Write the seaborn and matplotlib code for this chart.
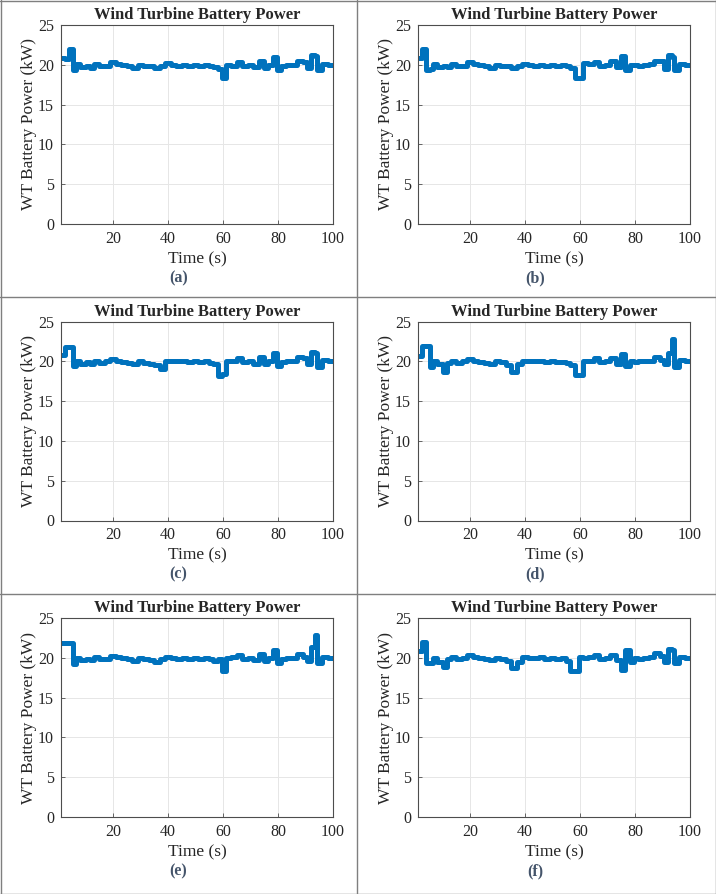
import numpy as np
import pandas as pd
import seaborn as sns
import matplotlib.pyplot as plt
from matplotlib.lines import Line2D

# step start times (s), shared by all six cases
t_steps = [1, 2.5, 4, 5.3, 6.5, 8, 10, 11.5, 13, 15, 17, 19, 21, 23, 25, 27, 29, 31,
           33, 35, 37, 39, 41, 43, 45, 47, 49, 51, 53, 55, 56.5, 58, 59.5, 61, 63,
           65, 67, 69, 71, 73, 75, 76.5, 78, 79.5, 81, 83, 85, 87, 89, 90.5, 92,
           93.3, 94.3, 96, 98]
t_end = 100

# battery power levels (kW) for each case
power_a = [20.8, 20.7, 22.0, 19.4, 20.1, 19.7, 19.8, 19.6, 20.1, 19.8, 19.9, 20.3, 20.1,
           20.0, 19.9, 19.6, 20.0, 19.9, 19.9, 19.6, 19.8, 20.2, 20.0, 19.9, 20.0, 19.9,
           20.0, 19.9, 20.0, 19.9, 19.7, 19.5, 18.3, 20.0, 19.9, 20.4, 19.9, 20.0, 19.7,
           20.5, 19.6, 20.0, 21.0, 19.4, 19.9, 20.0, 20.0, 20.5, 20.4, 19.6, 21.2, 21.1,
           19.3, 20.1, 20.0]
power_b = [20.8, 22.0, 19.3, 19.5, 20.1, 19.7, 19.9, 19.7, 20.1, 19.8, 19.9, 20.3, 20.1,
           20.0, 19.8, 19.6, 20.0, 19.9, 19.8, 19.6, 19.9, 20.1, 20.0, 19.9, 20.0, 19.9,
           20.0, 19.9, 20.0, 19.8, 19.6, 18.3, 18.4, 20.2, 20.1, 20.4, 19.9, 20.0, 20.5,
           19.7, 21.1, 19.4, 20.0, 20.0, 19.9, 20.0, 20.1, 20.5, 20.5, 19.5, 21.2, 21.0,
           19.3, 20.1, 20.0]
power_c = [20.8, 21.8, 21.8, 19.4, 20.0, 19.6, 19.9, 19.7, 20.1, 19.8, 20.0, 20.3, 20.1,
           19.9, 19.8, 19.6, 20.0, 19.8, 19.7, 19.5, 19.0, 20.1, 20.1, 20.0, 20.0, 19.9,
           20.0, 19.9, 20.0, 19.8, 19.7, 18.2, 18.4, 20.1, 20.0, 20.4, 19.9, 20.0, 19.7,
           20.5, 19.7, 20.0, 21.0, 19.4, 19.9, 20.0, 20.0, 20.6, 20.4, 19.6, 21.2, 21.1,
           19.3, 20.2, 20.0]
power_d = [20.7, 21.9, 21.9, 19.3, 20.0, 19.6, 18.7, 19.8, 20.1, 19.8, 20.0, 20.3, 20.0,
           19.9, 19.8, 19.6, 20.0, 19.9, 19.5, 18.7, 19.6, 20.0, 20.0, 20.0, 20.1, 19.9,
           20.0, 19.9, 19.9, 19.8, 19.5, 18.3, 18.3, 20.1, 20.0, 20.4, 19.9, 20.0, 20.4,
           19.7, 20.9, 19.4, 20.0, 19.9, 20.0, 20.0, 20.0, 20.5, 20.2, 19.6, 21.0, 22.8,
           19.3, 20.2, 20.0]
power_e = [21.9, 21.9, 21.9, 19.2, 20.0, 19.7, 19.9, 19.7, 20.1, 19.8, 19.9, 20.2, 20.1,
           20.0, 19.8, 19.6, 20.0, 19.9, 19.7, 19.5, 19.8, 20.1, 20.0, 19.9, 20.0, 19.9,
           20.0, 19.9, 20.0, 19.8, 19.6, 19.8, 18.3, 20.0, 20.1, 20.3, 19.9, 20.0, 19.7,
           20.5, 19.6, 20.0, 21.0, 19.4, 19.9, 20.0, 20.0, 20.5, 20.1, 19.6, 21.3, 22.9,
           19.3, 20.1, 20.0]
power_f = [20.8, 22.0, 19.3, 19.4, 20.0, 19.5, 18.8, 19.8, 20.1, 19.8, 20.0, 20.3, 20.1,
           20.0, 19.8, 19.7, 20.0, 19.8, 19.6, 18.7, 19.5, 20.1, 20.0, 20.0, 20.1, 19.9,
           20.0, 19.9, 20.0, 19.6, 18.3, 18.3, 20.1, 20.0, 20.1, 20.4, 19.8, 20.0, 20.4,
           19.7, 18.5, 21.0, 19.5, 20.0, 19.9, 20.0, 20.1, 20.6, 20.2, 19.5, 21.1, 21.0,
           19.3, 20.1, 20.0]

cases = ['(a)', '(b)', '(c)', '(d)', '(e)', '(f)']
all_power = [power_a, power_b, power_c, power_d, power_e, power_f]

sns.set_style('ticks')
plt.rcParams['font.family'] = ['Liberation Serif', 'DejaVu Serif']

W, H = 716, 894
fig = plt.figure(figsize=(W / 100, H / 100), dpi=100)

line_color = '#0072BD'
axis_color = '#4d4d4d'

for i, (lab, pw) in enumerate(zip(cases, all_power)):
    r, c = divmod(i, 2)
    left_px = 61 + 357 * c
    top_px = 25 + 296.5 * r
    ax = fig.add_axes([left_px / W, 1 - (top_px + 199) / H, 272 / W, 199 / H])

    df = pd.DataFrame({'Time': t_steps + [t_end], 'Power': pw + [pw[-1]]})
    sns.lineplot(data=df, x='Time', y='Power', ax=ax, color=line_color,
                 linewidth=3.6, drawstyle='steps-post', estimator=None)

    ax.set_xlim(1, 100)
    ax.set_ylim(0, 25)
    ax.set_xticks([20, 40, 60, 80, 100])
    ax.set_yticks([0, 5, 10, 15, 20, 25])
    ax.grid(True, color='#e6e6e6', linewidth=0.7)
    ax.set_axisbelow(True)
    for s in ax.spines.values():
        s.set_color(axis_color)
        s.set_linewidth(0.8)
    ax.tick_params(direction='in', length=3, width=0.6, colors=axis_color,
                   labelcolor='#262626', labelsize=11.5, pad=5)
    ax.set_title('Wind Turbine Battery Power', fontsize=12, fontweight='bold', pad=4)
    ax.set_xlabel('Time (s)', fontsize=12.5, color='#262626', labelpad=3)
    ax.set_ylabel('WT Battery Power (kW)', fontsize=12.5, color='#262626', labelpad=1)

    # caption under each panel, centred in its cell
    fig.text((178.5 + 357 * c) / W, 1 - (278 + 296.5 * r) / H, lab,
             ha='center', va='center', fontsize=11.5, fontweight='bold', color='#44546A')

# table-like cell borders
border = '#7f7f7f'
for x in [0.5, 357, 715.5]:
    fig.add_artist(Line2D([x / W, x / W], [0, 1], color=border, linewidth=1))
for y in [0.5, 297, 594, 893.5]:
    fig.add_artist(Line2D([0, 1], [1 - y / H, 1 - y / H], color=border, linewidth=1))

fig.savefig('out.png', dpi=100)
